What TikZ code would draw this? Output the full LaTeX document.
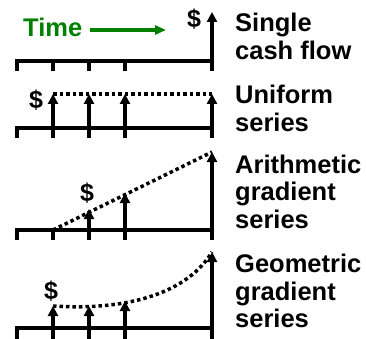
\documentclass[tikz,border=0pt]{standalone}
\usepackage{fontspec}
\setmainfont{Liberation Sans}[BoldFont={Liberation Sans Bold}]
\usetikzlibrary{arrows.meta}
\definecolor{timegreen}{RGB}{0,128,0}

\begin{document}
\begin{tikzpicture}[
    x=1pt, y=-1pt,
    lbl/.style={anchor=base west, align=left, inner sep=0pt, font=\fontsize{25.5}{27.5}\selectfont\bfseries},
    dollar/.style={inner sep=0pt, font=\fontsize{25}{27.5}\selectfont\bfseries},
    axisline/.style={line width=4.5pt, line cap=rect},
    tickmark/.style={line width=4pt},
    flow/.style={-{Triangle[width=10pt,length=10pt]}, line width=3.5pt},
    dotline/.style={line width=3.5pt, dash pattern=on 3.5pt off 3pt},
    timearrow/.style={-{Triangle[width=9pt,length=11pt]}, line width=4pt, draw=timegreen}
]
\useasboundingbox (0,0) rectangle (366,339);

% Part 1: Single cash flow
\node[lbl, text=timegreen] (time) at (23,37) {Time};
\coordinate (timeend) at (166,30);
\draw[timearrow] ([xshift=8pt]time.east |- timeend) -- (timeend);
\draw[axisline] (17,61) -- (212,61);
\foreach \x in {17,53,89,125,212} \draw[tickmark] (\x,61) -- (\x,71);
\coordinate (s0) at (212,71);
\coordinate (s1) at (212,12);
\draw[flow] (s0) -- (s1);
\node[dollar] (d1) at (194,19) {\$};
\node[lbl] (l1) at (235,59.5) {Single\\cash flow};

% Part 2: Uniform series
\draw[axisline] (17,128) -- (212,128);
\foreach \x in {17,53,89,125,212} \draw[tickmark] (\x,128) -- (\x,138);
\foreach \x in {53,89,125,212} {
    \coordinate (u\x) at (\x,138);
    \coordinate (ut\x) at (\x,94);
    \draw[flow] (u\x) -- (ut\x);
}
\draw[dotline] (ut53) -- (ut212);
\node[dollar] (d2) at (36,100) {\$};
\node[lbl] (l2) at (235,131.5) {Uniform\\series};

% Part 3: Arithmetic gradient series
\draw[axisline] (17,230) -- (212,230);
\foreach \x in {17,53,89,125,212} \draw[tickmark] (\x,230) -- (\x,240);
\coordinate (a53) at (53,230);
\foreach \x/\top in {89/209,125/193,212/152} {
    \coordinate (a\x) at (\x,240);
    \coordinate (at\x) at (\x,\top);
    \draw[flow] (a\x) -- (at\x);
}
\draw[dotline] (a53) -- (at212);
\node[dollar] (d3) at (87,193) {\$};
\node[lbl] (l3) at (235,228) {Arithmetic\\gradient\\series};

% Part 4: Geometric gradient series
\draw[axisline] (17,328) -- (212,328);
\foreach \x in {17,53,89,125,212} \draw[tickmark] (\x,328) -- (\x,339);
\foreach \x/\top in {53/306,89/306,125/301,212/252} {
    \coordinate (g\x) at (\x,339);
    \coordinate (gt\x) at (\x,\top);
    \draw[flow] (g\x) -- (gt\x);
}
\draw[dotline] (gt53) .. controls (130,311) and (188,292) .. (gt212);
\node[dollar] (d4) at (51,291) {\$};
\node[lbl] (l4) at (235,327.5) {Geometric\\gradient\\series};

\end{tikzpicture}
\end{document}
